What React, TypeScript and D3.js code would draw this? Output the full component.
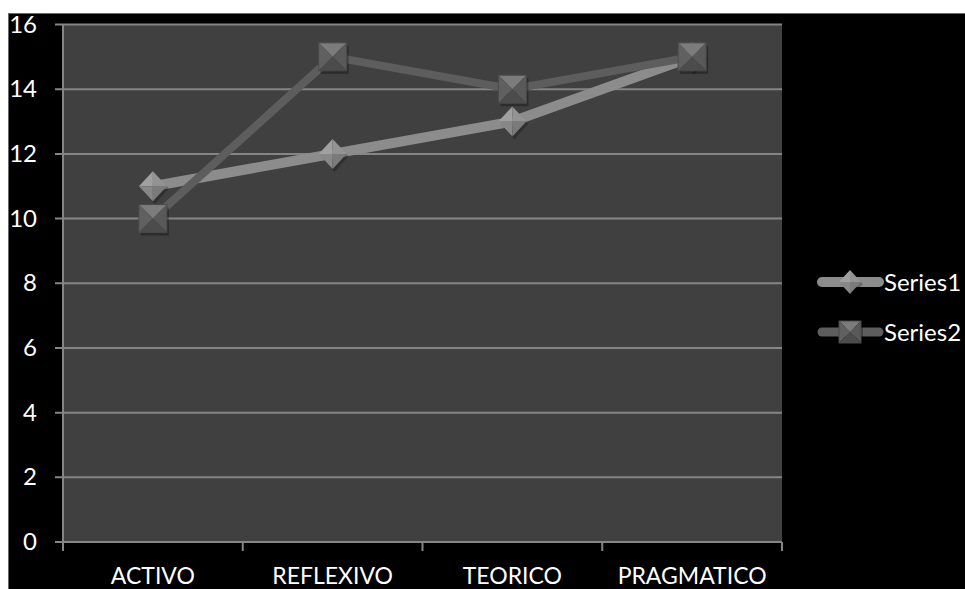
import React from 'react'
import * as d3 from 'd3'

const categories = ['ACTIVO', 'REFLEXIVO', 'TEORICO', 'PRAGMATICO']
const series1 = [11, 12, 13, 15]
const series2 = [10, 15, 14, 15]
const yTicks = [0, 2, 4, 6, 8, 10, 12, 14, 16]

const W = 965
const H = 589
const plot = { left: 63, right: 782, top: 24.5, bottom: 542 }
const FONT = 'Lato, "Open Sans", sans-serif'

const x = d3.scaleBand().domain(categories).range([plot.left, plot.right])
const y = d3.scaleLinear().domain([0, 16]).range([plot.bottom, plot.top])
const cx = (c: string) => (x(c) as number) + x.bandwidth() / 2

const line = d3
  .line<[number, number]>()
  .x(d => d[0])
  .y(d => d[1])

// bevelled diamond marker (Series1)
const Diamond = ({ px, py, s = 14 }: { px: number; py: number; s?: number }) => (
  <g transform={`translate(${px},${py})`}>
    <polygon points={`${-s + 2},${2} 2,${-s + 2 + 2} ${s + 2},2 2,${s + 2 + 2}`} fill="#000" opacity={0.25} />
    <polygon points={`${-s},0 0,${-s - 1} 0,0`} fill="#a0a0a0" />
    <polygon points={`0,${-s - 1} ${s},0 0,0`} fill="#939393" />
    <polygon points={`${-s},0 0,${s + 1} 0,0`} fill="#888888" />
    <polygon points={`${s},0 0,${s + 1} 0,0`} fill="#7a7a7a" />
  </g>
)

// pyramid square marker (Series2)
const Square = ({ px, py, s = 14 }: { px: number; py: number; s?: number }) => (
  <g transform={`translate(${px},${py})`}>
    <rect x={-s + 2} y={-s + 3} width={2 * s} height={2 * s} fill="#000" opacity={0.3} />
    <polygon points={`${-s},${-s} ${s},${-s} 0,0`} fill="#7c7c7c" />
    <polygon points={`${-s},${-s} ${-s},${s} 0,0`} fill="#606060" />
    <polygon points={`${s},${-s} ${s},${s} 0,0`} fill="#595959" />
    <polygon points={`${-s},${s} ${s},${s} 0,0`} fill="#4c4c4c" />
    <rect x={-s} y={-s} width={2 * s} height={2 * s} fill="none" stroke="#4a4a4a" strokeWidth={1} />
  </g>
)

export default function App() {
  const pts1 = categories.map((c, i) => [cx(c), y(series1[i])] as [number, number])
  const pts2 = categories.map((c, i) => [cx(c), y(series2[i])] as [number, number])
  const boundaries = [plot.left, ...categories.map(c => (x(c) as number) + x.bandwidth())]

  return (
    <svg
      width={W}
      height={H}
      style={{ position: 'absolute', left: 0, top: 0, display: 'block' }}
      fontFamily={FONT}
    >
      <rect x={0} y={0} width={W} height={H} fill="#fff" />
      <rect x={8.5} y={13.5} width={W} height={H} fill="#000" stroke="#6a6a6a" strokeWidth={1} />
      <rect
        x={plot.left}
        y={plot.top}
        width={plot.right - plot.left}
        height={plot.bottom - plot.top}
        fill="#404040"
      />
      {yTicks.map(t => (
        <g key={t}>
          <line x1={55} x2={plot.right} y1={y(t)} y2={y(t)} stroke="#858585" strokeWidth={2} />
          <text x={37} y={y(t) + 8} textAnchor="end" fill="#fff" fontSize={24}>
            {t}
          </text>
        </g>
      ))}
      <line x1={plot.left} x2={plot.left} y1={plot.top} y2={plot.bottom} stroke="#858585" strokeWidth={2} />
      {boundaries.map((b, i) => (
        <line key={i} x1={b} x2={b} y1={plot.bottom} y2={plot.bottom + 9} stroke="#858585" strokeWidth={2} />
      ))}
      {categories.map(c => (
        <text key={c} x={cx(c)} y={584} textAnchor="middle" fill="#fff" fontSize={23}>
          {c}
        </text>
      ))}

      <path d={line(pts1) as string} fill="none" stroke="#8c8c8c" strokeWidth={10} strokeLinejoin="round" />
      <path d={line(pts2) as string} fill="none" stroke="#5d5d5d" strokeWidth={8} strokeLinejoin="round" />
      {pts1.map((p, i) => (
        <Diamond key={i} px={p[0]} py={p[1]} />
      ))}
      {pts2.map((p, i) => (
        <Square key={i} px={p[0]} py={p[1]} />
      ))}

      <g>
        <line x1={822} x2={879} y1={282} y2={282} stroke="#8c8c8c" strokeWidth={10} strokeLinecap="round" />
        <Diamond px={850} py={282} s={11} />
        <text x={884} y={291} fill="#fff" fontSize={24}>
          Series1
        </text>
        <line x1={822} x2={879} y1={332} y2={332} stroke="#5d5d5d" strokeWidth={9} strokeLinecap="round" />
        <Square px={850} py={332} s={11} />
        <text x={884} y={341} fill="#fff" fontSize={24}>
          Series2
        </text>
      </g>
    </svg>
  )
}
